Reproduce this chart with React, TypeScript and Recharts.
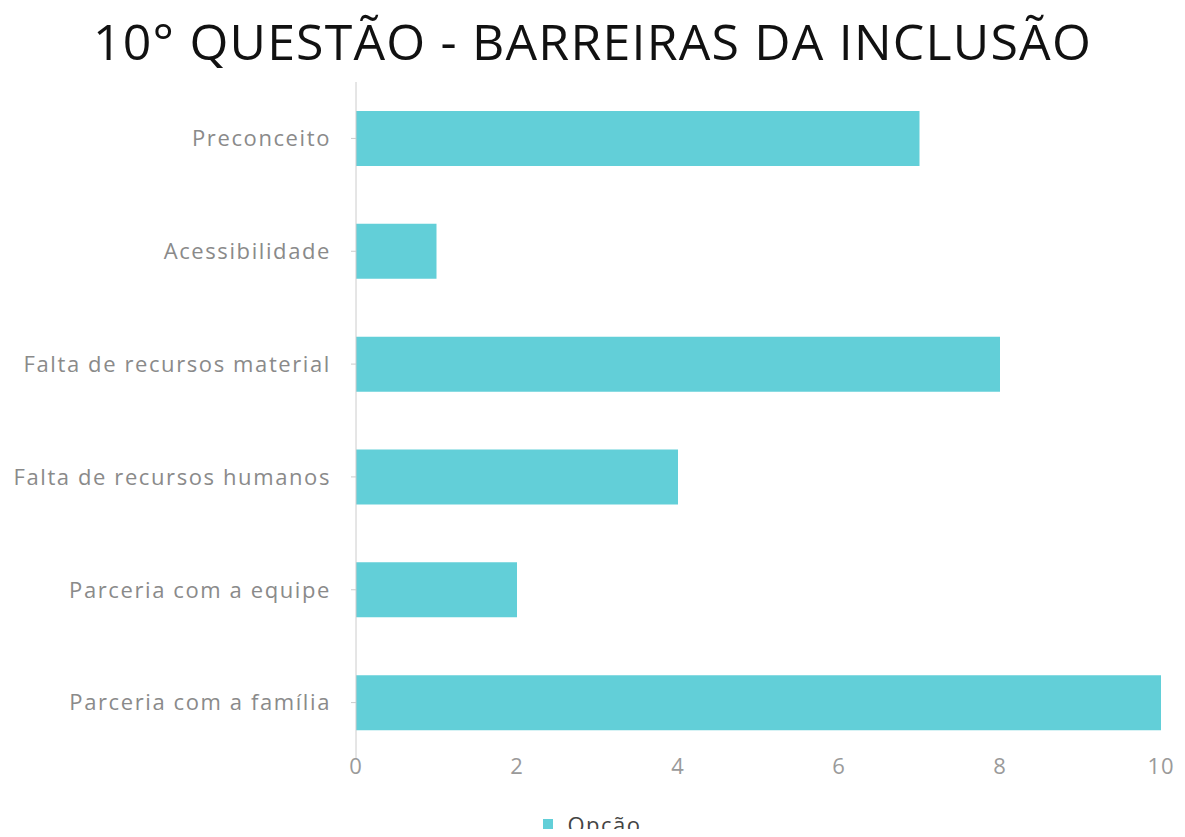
import React from "react";
import { BarChart, Bar, XAxis, YAxis, Legend } from "recharts";

const categories = [
  "Preconceito",
  "Acessibilidade",
  "Falta de recursos material",
  "Falta de recursos humanos",
  "Parceria com a equipe",
  "Parceria com a família",
];
const opcaoValues = [7, 1, 8, 4, 2, 10];
const xTicks = [0, 2, 4, 6, 8, 10];
const seriesName = "Opção";

const data = categories.map((c, i) => ({ name: c, value: opcaoValues[i] }));

const FONT = "'Open Sans', sans-serif";
const BAR = "#62CFD8";

const LegendContent = (props: any) => {
  const items = props.payload || [];
  return (
    <div style={{ display: "flex", justifyContent: "center", alignItems: "center", fontFamily: FONT }}>
      {items.map((it: any) => (
        <div key={it.value} style={{ display: "flex", alignItems: "center" }}>
          <span style={{ display: "inline-block", width: 10, height: 10, background: it.color, marginRight: 14 }} />
          <span style={{ fontSize: 22, color: "#444", letterSpacing: 1.5 }}>{it.value}</span>
        </div>
      ))}
    </div>
  );
};

export default function App() {
  return (
    <div style={{ position: "relative", width: 1185, height: 837, margin: -8, background: "#fff", fontFamily: FONT }}>
      <div
        style={{
          position: "absolute",
          top: 6,
          left: 0,
          width: 1185,
          textAlign: "center",
          fontSize: 50,
          color: "#111",
          fontFamily: FONT,
          lineHeight: "70px",
          letterSpacing: 1.2,
        }}
      >
        10° QUESTÃO - BARREIRAS DA INCLUSÃO
      </div>
      <div style={{ position: "absolute", top: 0, left: 0 }}>
        <BarChart
          width={1185}
          height={837}
          data={data}
          layout="vertical"
          margin={{ top: 82, right: 24, bottom: 8, left: 0 }}
        >
          <XAxis
            type="number"
            domain={[0, 10]}
            ticks={xTicks}
            axisLine={false}
            tickLine={false}
            tickSize={0}
            tickMargin={-1}
            tick={{ fill: "#9a9a9a", fontSize: 22, fontFamily: FONT, letterSpacing: 1 }}
            height={40}
          />
          <YAxis
            type="category"
            dataKey="name"
            width={356}
            axisLine={{ stroke: "#cccccc" }}
            tickLine={{ stroke: "#cccccc" }}
            tickSize={5}
            tickMargin={20}
            tick={{ fill: "#8a8a8a", fontSize: 22, fontFamily: FONT, letterSpacing: 1.6 }}
          />
          <Legend
            verticalAlign="bottom"
            align="center"
            content={<LegendContent />}
            wrapperStyle={{ top: 809, left: 0, width: 1185 }}
          />
          <Bar dataKey="value" name={seriesName} fill={BAR} barSize={55} isAnimationActive={false} />
        </BarChart>
      </div>
    </div>
  );
}
